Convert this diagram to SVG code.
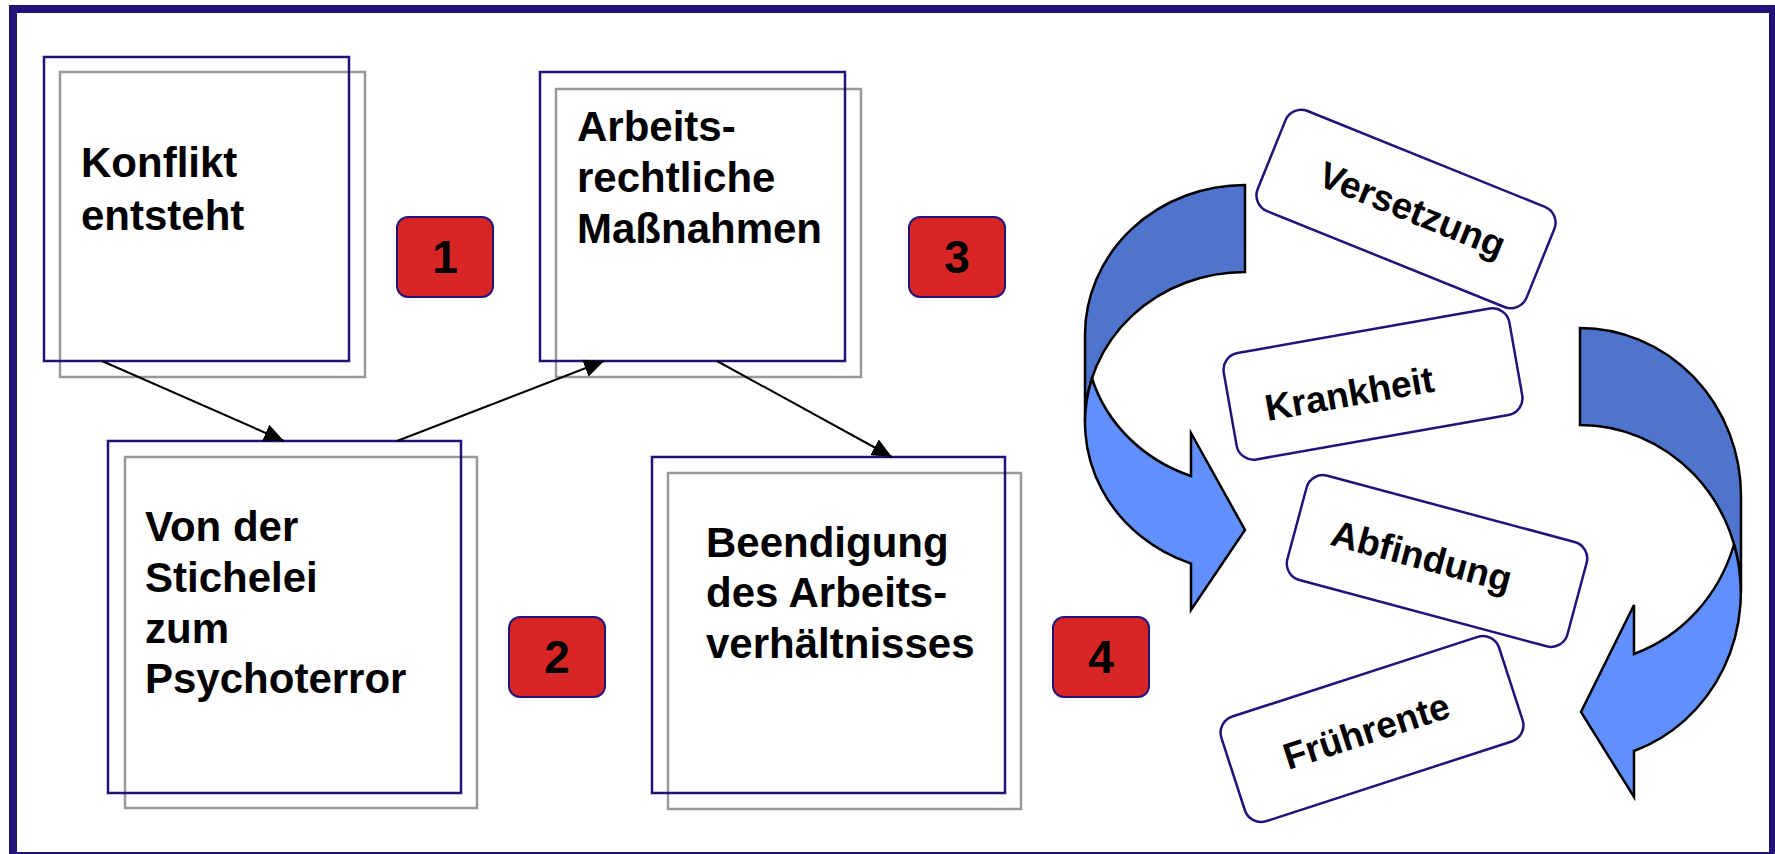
<svg xmlns="http://www.w3.org/2000/svg" width="1775" height="854" viewBox="0 0 1775 854">
<defs>
<style>
.frame{fill:none;stroke:#22137a;stroke-width:8}
.shadow{fill:none;stroke:#999;stroke-width:2.5}
.box{fill:none;stroke:#22137a;stroke-width:2.5}
.lbl{font-family:"Liberation Sans",Arial,sans-serif;font-weight:bold;font-size:42px;fill:#000}
.badge{fill:#d82626;stroke:#22137a;stroke-width:2}
.num{font-family:"Liberation Sans",Arial,sans-serif;font-weight:bold;font-size:46px;fill:#000;text-anchor:middle}
.conn{stroke:#000;stroke-width:2;fill:none}
.tag{fill:#fff;stroke:#22137a;stroke-width:2.5}
.tagt{font-family:"Liberation Sans",Arial,sans-serif;font-weight:bold;font-size:37px;fill:#000;text-anchor:middle}
.dark{fill:#4f74cd;stroke:#000;stroke-width:2.5}
.light{fill:#6190fc;stroke:#000;stroke-width:2.5}
</style>
<marker id="ah" viewBox="0 0 20 18" refX="20" refY="9" markerWidth="20" markerHeight="18" markerUnits="userSpaceOnUse" orient="auto"><path d="M0,0 L20,9 L0,18 Z" fill="#000"/></marker>
</defs>
<rect x="0" y="0" width="1775" height="854" fill="#fff"/>
<rect class="frame" x="13" y="9" width="1760" height="847"/>

<g id="konflikt">
<rect class="shadow" x="60" y="72" width="305" height="305"/>
<rect class="box" x="44" y="57" width="305" height="304"/>
<text class="lbl" x="81" y="177">Konflikt</text>
<text class="lbl" x="81" y="230">entsteht</text>
</g>
<g id="massnahmen">
<rect class="shadow" x="556" y="89" width="305" height="288"/>
<rect class="box" x="540" y="72" width="305" height="289"/>
<text class="lbl" x="577" y="141">Arbeits-</text>
<text class="lbl" x="577" y="192">rechtliche</text>
<text class="lbl" x="577" y="243">Maßnahmen</text>
</g>
<g id="psychoterror">
<rect class="shadow" x="125" y="457" width="352" height="351"/>
<rect class="box" x="108" y="441" width="353" height="352"/>
<text class="lbl" x="145" y="541">Von der</text>
<text class="lbl" x="145" y="592">Stichelei</text>
<text class="lbl" x="145" y="643">zum</text>
<text class="lbl" x="145" y="693">Psychoterror</text>
</g>
<g id="beendigung">
<rect class="shadow" x="668" y="473" width="353" height="336"/>
<rect class="box" x="652" y="457" width="353" height="336"/>
<text class="lbl" x="706" y="557">Beendigung</text>
<text class="lbl" x="706" y="607">des Arbeits-</text>
<text class="lbl" x="706" y="658">verhältnisses</text>
</g>

<g id="badge1"><rect class="badge" x="397" y="217" width="96" height="80" rx="11"/><text class="num" x="445" y="273">1</text></g>
<g id="badge2"><rect class="badge" x="509" y="617" width="96" height="80" rx="11"/><text class="num" x="557" y="673">2</text></g>
<g id="badge3"><rect class="badge" x="909" y="217" width="96" height="80" rx="11"/><text class="num" x="957" y="273">3</text></g>
<g id="badge4"><rect class="badge" x="1053" y="617" width="96" height="80" rx="11"/><text class="num" x="1101" y="673">4</text></g>

<g id="connectors">
<line class="conn" x1="102" y1="361" x2="284" y2="441" marker-end="url(#ah)"/>
<line class="conn" x1="397" y1="441" x2="604" y2="361" marker-end="url(#ah)"/>
<line class="conn" x1="717" y1="361" x2="892" y2="457" marker-end="url(#ah)"/>
</g>

<g id="curved-arrow-left">
<path class="dark" d="M1245,185 A160,150 0 0 0 1085,335 L1085,422 A160,150 0 0 1 1245,272 Z"/>
<path class="light" d="M1092,378.5 A160,150 0 0 0 1191,563.6 L1191,610 L1245,530 L1191,433 L1191,476 A160,150 0 0 1 1092,378.5 Z"/>
</g>
<g id="curved-arrow-right">
<path class="dark" d="M1580,328 A161,168 0 0 1 1741,496 L1741,593 A161,168 0 0 0 1580,425 Z"/>
<path class="light" d="M1734,544.5 A161,168 0 0 1 1634,751 L1634,797 L1581,712 L1634,605 L1634,654 A161,168 0 0 0 1734,544.5 Z"/>
</g>

<g id="versetzung" transform="translate(1406,209) rotate(22)">
<rect class="tag" x="-145" y="-54" width="290" height="108" rx="17"/>
<text class="tagt" x="6" y="11">Versetzung</text>
</g>
<g id="krankheit" transform="translate(1373,384) rotate(-10)">
<rect class="tag" x="-145" y="-54" width="290" height="108" rx="17"/>
<text class="tagt" x="-25" y="18">Krankheit</text>
</g>
<g id="abfindung" transform="translate(1437,561) rotate(15)">
<rect class="tag" x="-145" y="-54" width="290" height="108" rx="17"/>
<text class="tagt" x="-16" y="12">Abfindung</text>
</g>
<g id="fruehrente" transform="translate(1372,729) rotate(-18)">
<rect class="tag" x="-146" y="-55" width="292" height="110" rx="17"/>
<text class="tagt" x="-6" y="13">Frührente</text>
</g>
</svg>
